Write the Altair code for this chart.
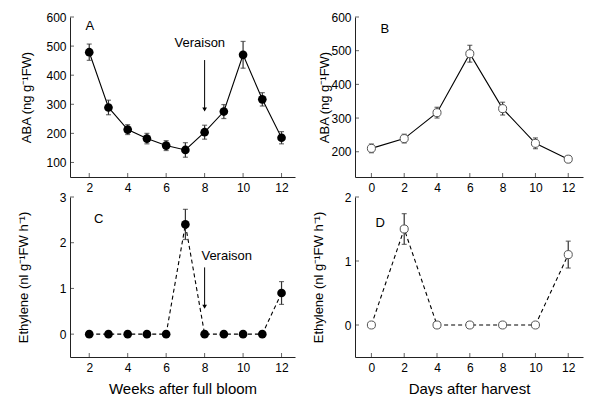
import altair as alt
import pandas as pd

# ---- data ----
weeks = [2, 3, 4, 5, 6, 7, 8, 9, 10, 11, 12]
aba_weeks = [479, 289, 213, 182, 158, 143, 204, 275, 470, 317, 185]
aba_weeks_err = [28, 25, 17, 18, 17, 25, 24, 24, 46, 23, 21]

days = [0, 2, 4, 6, 8, 10, 12]
aba_days = [210, 239, 316, 491, 328, 225, 178]
aba_days_err = [13, 13, 16, 25, 19, 16, 10]

eth_weeks = [0, 0, 0, 0, 0, 2.4, 0, 0, 0, 0, 0.9]
eth_weeks_err = [0, 0, 0, 0, 0, 0.33, 0, 0, 0, 0, 0.25]

eth_days = [0, 1.5, 0, 0, 0, 0, 1.1]
eth_days_err = [0, 0.24, 0, 0, 0, 0, 0.21]

week_ticks = [2, 4, 6, 8, 10, 12]
day_ticks = [0, 2, 4, 6, 8, 10, 12]

FONT = "Liberation Sans"


def panel(x, y, err, xdom, ydom, xticks, yticks, ytitle, xtitle, filled,
          dashed, width, title_x, letter, letter_xy, veraison=None):
    df = pd.DataFrame({"x": x, "y": y, "err": err})
    df["lo"] = df["y"] - df["err"]
    df["hi"] = df["y"] + df["err"]
    eb = df[df["err"] > 0]

    xs = alt.Scale(domain=xdom, nice=False, zero=False)
    ys = alt.Scale(domain=ydom, nice=False, zero=False)

    xaxis_kw = dict(values=xticks, format="d", ticks=False, labelPadding=5)
    if xtitle:
        xaxis_kw.update(title=xtitle, titleFontSize=15, titlePadding=8)
    else:
        xaxis_kw.update(title="")
    xaxis = alt.Axis(**xaxis_kw)
    yaxis = alt.Axis(values=yticks, format="d", title=ytitle, ticks=False,
                     labelPadding=4, titleX=title_x, titleFontSize=13)

    def X(f):
        return alt.X(f, scale=xs, axis=xaxis)

    def Y(f):
        return alt.Y(f, scale=ys, axis=yaxis)

    # inward axis ticks
    xt = pd.DataFrame({"x": xticks, "y": [ydom[0]] * len(xticks)})
    yt = pd.DataFrame({"x": [xdom[0]] * len(yticks), "y": yticks})
    xtick = alt.Chart(xt).mark_tick(orient="vertical", size=4, thickness=1,
                                    color="#222", yOffset=-2).encode(
        x=X("x:Q"), y=Y("y:Q"))
    ytick = alt.Chart(yt).mark_tick(orient="horizontal", size=4, thickness=1,
                                    color="#222", xOffset=2).encode(
        x=X("x:Q"), y=Y("y:Q"))

    line_kw = dict(color="black", strokeWidth=1.1)
    if dashed:
        line_kw["strokeDash"] = [4, 3]
    base = alt.Chart(df)
    line = base.mark_line(**line_kw).encode(x=X("x:Q"), y=Y("y:Q"))
    ebase = alt.Chart(eb)
    rule = ebase.mark_rule(color="#333", strokeWidth=1.2).encode(
        x=X("x:Q"), y=Y("lo:Q"), y2="hi:Q")
    cap_lo = ebase.mark_tick(color="#333", orient="horizontal", size=5,
                             thickness=1.2).encode(x=X("x:Q"), y=Y("lo:Q"))
    cap_hi = ebase.mark_tick(color="#333", orient="horizontal", size=5,
                             thickness=1.2).encode(x=X("x:Q"), y=Y("hi:Q"))
    if filled:
        pts = base.mark_point(shape="circle", filled=True, color="black",
                              size=75, opacity=1)
    else:
        pts = base.mark_point(shape="circle", filled=True, fill="white",
                              stroke="#555", strokeWidth=1, size=65,
                              opacity=1)
    pts = pts.encode(x=X("x:Q"), y=Y("y:Q"))
    ldf = pd.DataFrame({"x": [letter_xy[0]], "y": [letter_xy[1]],
                        "t": [letter]})
    lab = alt.Chart(ldf).mark_text(font=FONT, fontSize=13, color="black",
                                   align="left", baseline="middle").encode(
        x=X("x:Q"), y=Y("y:Q"), text="t:N")
    layers = [line, xtick, ytick, rule, cap_lo, cap_hi, pts, lab]
    if veraison:
        tx, ty, ax, ay1, ay2 = veraison
        vdf = pd.DataFrame({"x": [tx], "y": [ty], "t": ["Veraison"]})
        vt = alt.Chart(vdf).mark_text(font=FONT, fontSize=13, color="black",
                                      align="center",
                                      baseline="middle").encode(
            x=X("x:Q"), y=Y("y:Q"), text="t:N")
        adf = pd.DataFrame({"x": [ax], "y1": [ay1], "y2": [ay2]})
        ar = alt.Chart(adf).mark_rule(color="black", strokeWidth=1).encode(
            x=X("x:Q"), y=Y("y1:Q"), y2="y2:Q")
        head = alt.Chart(adf).mark_point(shape="triangle-down", filled=True,
                                         color="black", size=22,
                                         opacity=1).encode(
            x=X("x:Q"), y=Y("y2:Q"))
        layers += [vt, ar, head]
    return alt.layer(*layers).properties(width=width, height=160)


A = panel(weeks, aba_weeks, aba_weeks_err, [1, 12.7], [50, 600], week_ticks,
          [100, 200, 300, 400, 500, 600], "ABA (ng g⁻¹FW)", None, True, False,
          225, -37, "A", (1.8, 570), (7.75, 510, 8, 452, 282))
B = panel(days, aba_days, aba_days_err, [-1, 12.9], [125, 600], day_ticks,
          [200, 300, 400, 500, 600], "ABA (ng g⁻¹FW)", None, False, False,
          228, -24, "B", (0.55, 564))
C = panel(weeks, eth_weeks, eth_weeks_err, [1, 12.7], [-0.5, 3], week_ticks,
          [0, 1, 2, 3], "Ethylene (nl g⁻¹FW h⁻¹)", "Weeks after full bloom",
          True, True, 225, -40, "C", (2.25, 2.52),
          (9.15, 1.70, 8, 1.46, 0.6))
D = panel(days, eth_days, eth_days_err, [-1, 12.9], [-0.5, 2], day_ticks,
          [0, 1, 2], "Ethylene (nl g⁻¹FW h⁻¹)", "Days after harvest",
          False, True, 228, -30, "D", (0.25, 1.6))

chart = alt.concat(A, B, C, D, columns=2,
                   spacing={"row": 20, "column": 60},
                   bounds="flush").properties(
    padding={"left": 9, "top": 3, "right": 5, "bottom": 0}
).configure_view(stroke=None).configure_axis(
    grid=False,
    labelFont=FONT, titleFont=FONT,
    labelFontSize=12, titleFontWeight="normal",
    labelColor="black", titleColor="black",
    domainColor="#222", tickColor="#222",
)

chart.save("out.html", embed_options={"renderer": "svg", "actions": False})
